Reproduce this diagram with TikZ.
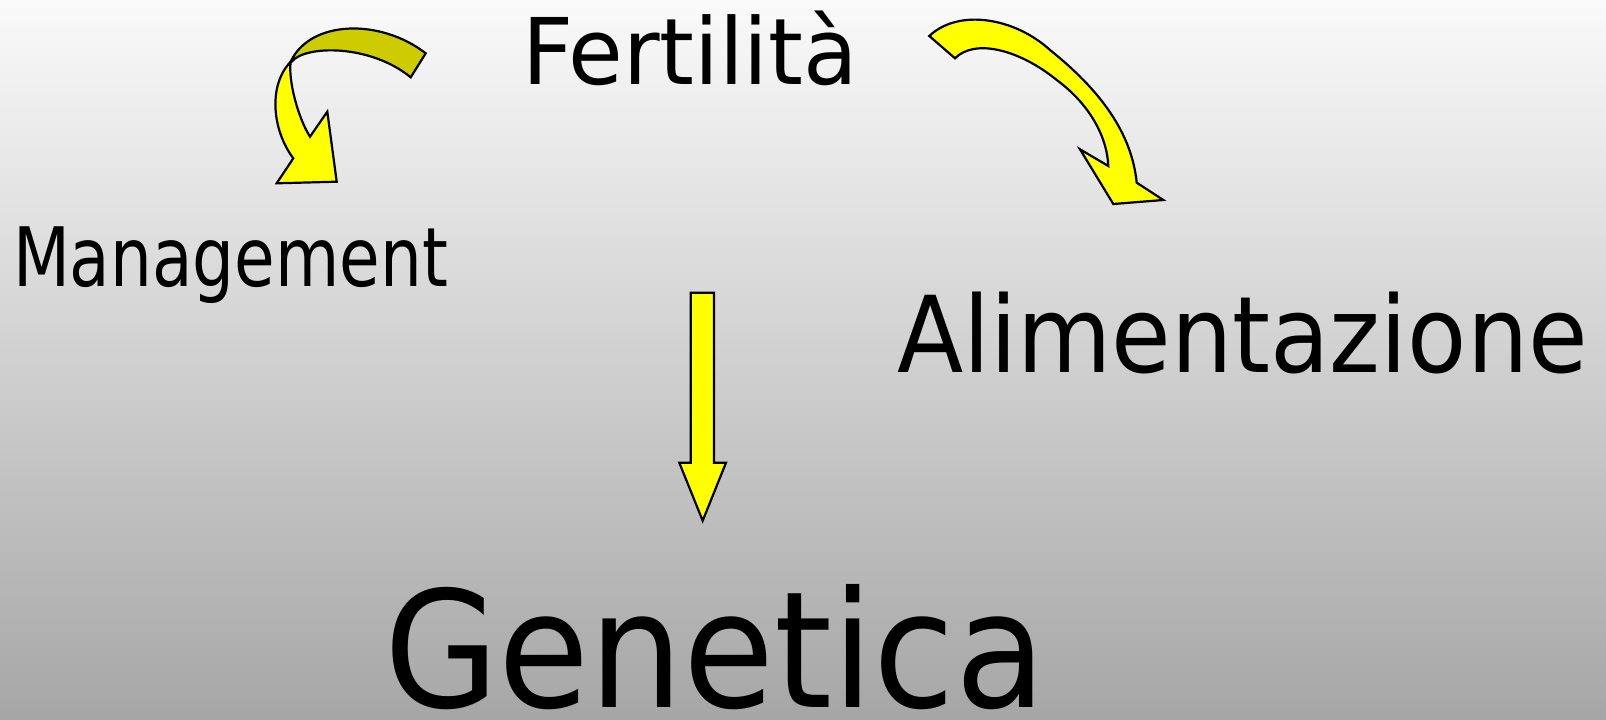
\documentclass[tikz,border=0pt]{standalone}
\usepackage{fontspec}
\setmainfont{DejaVu Sans}
\usepackage{graphicx}
\definecolor{arrowyellow}{RGB}{255,255,0}
\definecolor{arrowolive}{RGB}{204,204,0}
\definecolor{bgtop}{RGB}{250,250,250}
\definecolor{bgmid}{RGB}{218,218,218}
\definecolor{bgbot}{RGB}{166,166,166}
\tikzset{
  lbl/.style={anchor=base west, inner sep=0pt, outer sep=0pt, text=black},
  yarrow/.style={fill=arrowyellow, draw=black, line width=2.2pt, line join=miter},
  oarrow/.style={yarrow, fill=arrowolive}
}
\begin{document}
\begin{tikzpicture}[x=1pt,y=-1pt]
\useasboundingbox (0,0) rectangle (1606,720);
\shade[top color=bgtop, middle color=bgmid, bottom color=bgbot] (0,0) rectangle (1606,720);

% texts
\node[lbl] (fert) at (522,84) {\resizebox{336pt}{\height}{\fontsize{92pt}{92pt}\selectfont Fertilità}};
\node[lbl] (mgmt) at (13,286) {\resizebox{435pt}{\height}{\fontsize{82pt}{82pt}\selectfont Management}};
\node[lbl] (alim) at (897,372) {\resizebox{691pt}{\height}{\fontsize{106pt}{106pt}\selectfont Alimentazione}};
\node[lbl] (gene) at (384,707) {\resizebox{662pt}{\height}{\fontsize{162pt}{162pt}\selectfont Genetica}};

% left curved arrow: olive back part
\draw[oarrow] (425.7,53.3) .. controls (380,18) and (310,20) .. (290.7,61.7)
  -- (291.7,61.7) .. controls (305,45) and (370,44) .. (410.7,77.3) -- cycle;
% left curved arrow: yellow front part
\draw[yarrow] (290.7,61.7) .. controls (268,85) and (272,130) .. (293.3,158.3)
  -- (276.7,183.3) -- (336.7,181.7) -- (327.3,111.7) -- (310,136.7)
  .. controls (298,118) and (288,80) .. (290.7,61.7) -- cycle;

% right curved arrow
\draw[yarrow] (929.3,36) .. controls (959,8) and (1015,18) .. (1050,50)
  .. controls (1100,90) and (1131.7,132.7) .. (1136.7,182.7)
  -- (1163.3,200) -- (1113.3,204) -- (1080,149.3) -- (1108.3,166)
  .. controls (1107,135) and (1088,103) .. (1056.7,80)
  .. controls (1020,50) and (975,38) .. (955,58.3) -- cycle;

% straight down arrow
\draw[yarrow] (690.7,292.7) -- (714,292.7) -- (714,462.7) -- (726,462.7) -- (702.7,520.7)
  -- (679.3,462.7) -- (690.7,462.7) -- cycle;
\end{tikzpicture}
\end{document}
